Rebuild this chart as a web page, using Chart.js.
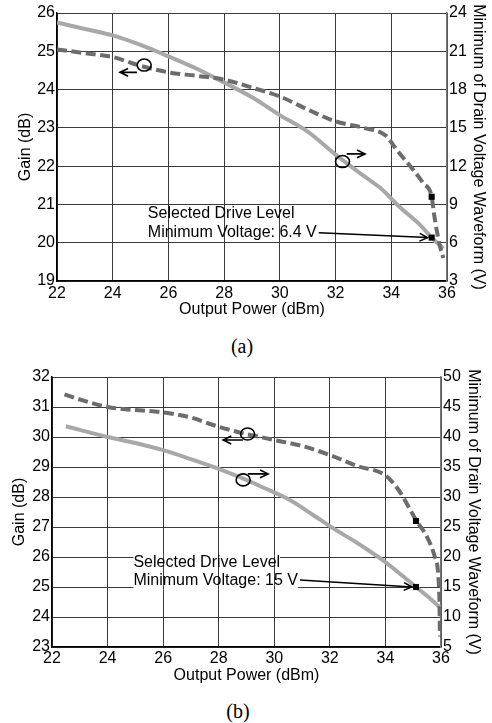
<!DOCTYPE html>
<html>
<head>
<meta charset="utf-8">
<script src="https://cdn.jsdelivr.net/npm/chart.js@4.4.1/dist/chart.umd.min.js"></script>
<style>
  body { margin: 0; background: #fff; width: 492px; height: 723px; position: relative; overflow: hidden; }
  .plot { position: absolute; left: 0; width: 492px; }
  .cap { position: absolute; font-family: "Liberation Serif", "Times New Roman", serif; font-size: 20px; color: #000; transform: translate(-50%, -50%); }
</style>
</head>
<body>
<div class="plot" style="top:0;height:325px"><canvas id="chartA"></canvas></div>
<div class="cap" style="left:242px;top:346px">(a)</div>
<div class="plot" style="top:362px;height:328px"><canvas id="chartB"></canvas></div>
<div class="cap" style="left:238px;top:711px">(b)</div>
<script>
// ---- (a) ----
const powerGainA = [22, 23, 24, 25, 26, 27, 28, 29, 30, 31, 32, 33, 33.8, 34.2, 34.79, 35.15, 35.45, 35.53, 35.63, 35.75, 35.87];
const gainA = [25.05, 24.95, 24.85, 24.62, 24.45, 24.36, 24.26, 24.05, 23.82, 23.48, 23.17, 23.0, 22.8, 22.42, 21.9, 21.55, 21.2, 20.77, 20.33, 19.9, 19.6];
const powerVoltA = [22, 23, 24, 25, 26, 27, 28, 29, 30, 31, 32, 33, 33.6, 34.3, 35.03, 35.45, 35.87];
const voltA = [23.25, 22.75, 22.25, 21.5, 20.6, 19.65, 18.55, 17.4, 16.0, 14.7, 12.9, 11.25, 10.3, 8.8, 7.4, 6.4, 5.55];
const selPowerA = 35.45, selGainA = 21.2, selVoltA = 6.4;
const gainTicksA = [19, 20, 21, 22, 23, 24, 25, 26];
const voltTicksA = [3, 6, 9, 12, 15, 18, 21, 24];

// ---- (b) ----
const powerGainB = [22.45, 23, 24, 24.7, 26, 27, 27.8, 28.76, 30, 31, 32, 33, 34, 34.5, 35.12, 35.48, 35.78, 35.94, 35.96];
const gainB = [31.42, 31.25, 31.0, 30.92, 30.82, 30.65, 30.4, 30.15, 29.9, 29.7, 29.4, 29.03, 28.72, 28.2, 27.2, 26.7, 26.0, 24.7, 23.35];
const powerVoltB = [22.5, 24, 25, 26, 27, 28, 28.76, 29.5, 30.56, 31.4, 32.18, 33, 33.8, 34.5, 35.1, 35.5, 35.96];
const voltB = [41.8, 40.0, 39.0, 37.8, 36.3, 34.7, 33.3, 31.8, 29.5, 27.0, 24.6, 22.3, 19.8, 17.3, 15.0, 13.5, 11.6];
const selPowerB = 35.1, selGainB = 27.2, selVoltB = 15;
const gainTicksB = [23, 24, 25, 26, 27, 28, 29, 30, 31, 32];
const voltTicksB = [5, 10, 15, 20, 25, 30, 35, 40, 45, 50];

const powerTicks = [22, 24, 26, 28, 30, 32, 34, 36];

const FONT = "'Liberation Sans', Arial, sans-serif";
const gridColor = '#3a3a3a';

function pts(xs, ys) {
  return xs.map((v, i) => ({ x: v, y: ys[i] }));
}

function setTicks(list) {
  return function (scale) { scale.ticks = list.map(v => ({ value: v })); };
}

function arrow(ctx, x0, y0, x1, y1) {
  const a = Math.atan2(y1 - y0, x1 - x0);
  ctx.beginPath();
  ctx.moveTo(x0, y0);
  ctx.lineTo(x1, y1);
  ctx.moveTo(x1 - 9 * Math.cos(a - 0.45), y1 - 9 * Math.sin(a - 0.45));
  ctx.lineTo(x1, y1);
  ctx.lineTo(x1 - 9 * Math.cos(a + 0.45), y1 - 9 * Math.sin(a + 0.45));
  ctx.stroke();
}

// circles with arrows, the drive level label and its leader
const notes = {
  id: 'notes',
  beforeDatasetsDraw(chart, args, opts) {
    if (!opts.gaps) return;
    const { ctx, scales: { x, y } } = chart;
    ctx.save();
    opts.gaps.forEach(g => {
      const py = Math.round(y.getPixelForValue(g.gain) - 0.5) + 0.5;
      const x1 = x.getPixelForValue(g.from), x2 = x.getPixelForValue(g.to);
      ctx.fillStyle = '#fff';
      ctx.fillRect(x1, py - 2, x2 - x1, 4);
      ctx.strokeStyle = gridColor;
      ctx.lineWidth = 1;
      powerTicks.forEach(v => {
        const px = Math.round(x.getPixelForValue(v) - 0.5) + 0.5;
        if (px > x1 && px < x2) {
          ctx.beginPath(); ctx.moveTo(px, py - 2); ctx.lineTo(px, py + 2); ctx.stroke();
        }
      });
    });
    ctx.restore();
  },
  afterDatasetsDraw(chart, args, opts) {
    const { ctx, scales: { x, y, y2 } } = chart;
    ctx.save();
    ctx.strokeStyle = '#000';
    ctx.fillStyle = '#000';
    ctx.lineWidth = 1.6;
    opts.rings.forEach(r => {
      const cx = x.getPixelForValue(r.at[0]), cy = y.getPixelForValue(r.at[1]);
      ctx.beginPath();
      ctx.ellipse(cx, cy, 7, 6, 0, 0, Math.PI * 2);
      ctx.stroke();
      arrow(ctx, x.getPixelForValue(r.from[0]), y.getPixelForValue(r.from[1]),
        x.getPixelForValue(r.to[0]), y.getPixelForValue(r.to[1]));
    });

    const lb = opts.label;
    ctx.font = '16px ' + FONT;
    ctx.textAlign = 'left';
    ctx.textBaseline = 'middle';
    const lx = x.getPixelForValue(lb.power);
    let ly = 0;
    lb.text.forEach((t, i) => {
      ly = y.getPixelForValue(lb.gain[i]);
      ctx.fillText(t, lx, ly);
    });
    const w = ctx.measureText(lb.text[lb.text.length - 1]).width;
    ctx.lineWidth = 1.5;
    arrow(ctx, lx + w + 2, ly, x.getPixelForValue(lb.toPower) - 4, y2.getPixelForValue(lb.toVolt));
    ctx.restore();
  }
};

function makeChart(id, d) {
  return new Chart(document.getElementById(id), {
    type: 'line',
    data: {
      datasets: [
        {
          data: [{ x: d.selPower, y: d.selGain }], yAxisID: 'y', showLine: false,
          pointStyle: 'rect', pointRadius: 4.3, backgroundColor: '#000', borderColor: '#000', borderWidth: 0
        },
        {
          data: [{ x: d.selPower, y: d.selVolt }], yAxisID: 'y2', showLine: false,
          pointStyle: 'rect', pointRadius: 4.3, backgroundColor: '#000', borderColor: '#000', borderWidth: 0
        },
        {
          data: pts(d.powerGain, d.gain), yAxisID: 'y',
          borderColor: '#6c6c6c', borderWidth: 4, borderDash: [10, 4.5],
          pointRadius: 0, cubicInterpolationMode: 'monotone'
        },
        {
          data: pts(d.powerVolt, d.volt), yAxisID: 'y2',
          borderColor: '#a8a8a8', borderWidth: 4,
          pointRadius: 0, cubicInterpolationMode: 'monotone'
        }
      ]
    },
    options: {
      responsive: true,
      maintainAspectRatio: false,
      animation: false,
      events: [],
      layout: { padding: { top: d.top, left: 0, right: 0, bottom: 0 } },
      plugins: {
        legend: { display: false },
        tooltip: { enabled: false },
        notes: { rings: d.rings, label: d.label, gaps: d.gaps }
      },
      scales: {
        x: {
          type: 'linear', min: 22, max: 36,
          afterBuildTicks: setTicks(powerTicks),
          afterFit: s => { s.height = d.xHeight; },
          ticks: { font: { family: FONT, size: 16 }, color: '#000', padding: d.xPad, maxRotation: 0, autoSkip: false },
          grid: { color: gridColor, lineWidth: 1, drawTicks: false },
          border: { color: '#000', width: 1.5 },
          title: { display: true, text: 'Output Power (dBm)', color: '#000',
            font: { family: FONT, size: 16, lineHeight: 1 }, padding: { top: 0, bottom: d.xTitlePad } }
        },
        y: {
          position: 'left', min: d.gainTicks[0], max: d.gainTicks[d.gainTicks.length - 1],
          afterBuildTicks: setTicks(d.gainTicks),
          afterFit: s => { s.width = d.leftW; },
          ticks: { font: { family: FONT, size: 16 }, color: '#000', padding: 2 },
          grid: { color: gridColor, lineWidth: 1, drawTicks: false },
          border: { color: '#000', width: 1.5 },
          title: { display: true, text: 'Gain (dB)', color: '#000',
            font: { family: FONT, size: 16, lineHeight: 1 }, padding: { top: d.leftTitlePad, bottom: 0 } }
        },
        y2: {
          position: 'right', min: d.voltTicks[0], max: d.voltTicks[d.voltTicks.length - 1],
          afterBuildTicks: setTicks(d.voltTicks),
          afterFit: s => { s.width = d.rightW; },
          ticks: { font: { family: FONT, size: 16 }, color: '#000', padding: 2 },
          grid: { drawOnChartArea: false, drawTicks: false },
          border: { color: '#777', width: 1.5 },
          title: { display: true, text: 'Minimum of Drain Voltage Waveform (V)', color: '#000',
            font: { family: FONT, size: 16, lineHeight: 1 }, padding: { top: d.rightTitlePad, bottom: 0 } }
        }
      }
    },
    plugins: [notes]
  });
}

makeChart('chartA', {
  powerGain: powerGainA, gain: gainA, powerVolt: powerVoltA, volt: voltA,
  selPower: selPowerA, selGain: selGainA, selVolt: selVoltA,
  gainTicks: gainTicksA, voltTicks: voltTicksA,
  top: 13, xHeight: 44, xPad: 3.4, xTitlePad: 7, leftW: 57, rightW: 45, leftTitlePad: 18, rightTitlePad: 6,
  rings: [
    { at: [25.13, 24.64], from: [24.87, 24.45], to: [24.26, 24.45] },
    { at: [32.25, 22.12], from: [32.4, 22.32], to: [33.06, 22.32] }
  ],
  label: {
    power: 25.26, gain: [20.75, 20.26],
    text: ['Selected Drive Level', 'Minimum Voltage: ' + selVoltA + ' V'],
    toPower: selPowerA, toVolt: selVoltA
  }
});

makeChart('chartB', {
  powerGain: powerGainB, gain: gainB, powerVolt: powerVoltB, volt: voltB,
  selPower: selPowerB, selGain: selGainB, selVolt: selVoltB,
  gainTicks: gainTicksB, voltTicks: voltTicksB,
  top: 15, xHeight: 43, xPad: 2.4, xTitlePad: 6, leftW: 52, rightW: 51, leftTitlePad: 12, rightTitlePad: 11,
  rings: [
    { at: [29.04, 30.1], from: [28.87, 29.9], to: [28.16, 29.9] },
    { at: [28.88, 28.57], from: [29.05, 28.77], to: [29.78, 28.77] }
  ],
  label: {
    power: 24.93, gain: [25.81, 25.23],
    text: ['Selected Drive Level', 'Minimum Voltage: ' + selVoltB + ' V'],
    toPower: selPowerB, toVolt: selVoltB
  },
  gaps: [
    { gain: 26, from: 24.93, to: 30.2 },
    { gain: 25, from: 24.93, to: 30.85 }
  ]
});
</script>
</body>
</html>
